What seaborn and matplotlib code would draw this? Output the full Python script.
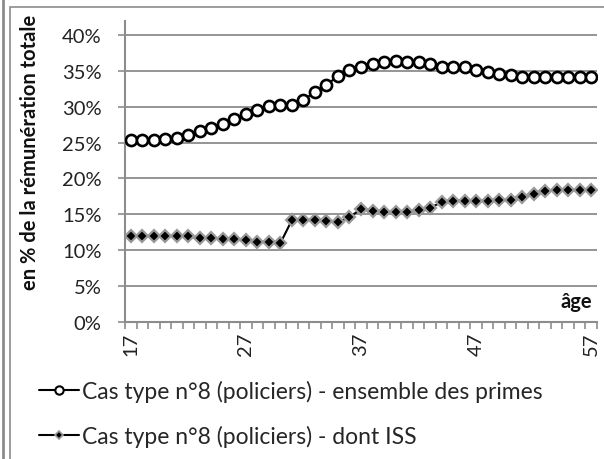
import matplotlib
matplotlib.use("Agg")
import matplotlib.pyplot as plt
import seaborn as sns
import pandas as pd
import numpy as np
from matplotlib.patches import Rectangle
from matplotlib.lines import Line2D
from matplotlib.ticker import FixedLocator, PercentFormatter

ages = list(range(17, 58))
ensemble_primes = [25.4, 25.3, 25.3, 25.5, 25.7, 26.0, 26.6, 27.1, 27.6, 28.3,
                   29.0, 29.6, 30.1, 30.2, 30.3, 31.0, 32.0, 33.0, 34.3, 35.1,
                   35.5, 35.9, 36.2, 36.35, 36.2, 36.2, 36.0, 35.5, 35.5, 35.5,
                   35.1, 34.9, 34.6, 34.4, 34.2, 34.1, 34.1, 34.1, 34.1, 34.1, 34.1]
dont_iss = [12.0, 12.0, 12.0, 12.0, 12.0, 12.0, 11.75, 11.75, 11.6, 11.6,
            11.4, 11.2, 11.2, 11.0, 14.2, 14.2, 14.2, 14.1, 13.9, 14.6,
            15.75, 15.5, 15.35, 15.35, 15.35, 15.6, 15.9, 16.7, 16.9, 16.9,
            16.9, 16.9, 17.0, 17.0, 17.35, 17.85, 18.2, 18.4, 18.4, 18.4, 18.4]
labels = ["Cas type n°8 (policiers) - ensemble des primes",
          "Cas type n°8 (policiers) - dont ISS"]
ytick_vals = [0, 5, 10, 15, 20, 25, 30, 35, 40]
xtick_vals = [17, 27, 37, 47, 57]

df = pd.DataFrame({"age": ages * 2,
                   "val": [v / 100 for v in ensemble_primes + dont_iss],
                   "serie": [labels[0]] * len(ages) + [labels[1]] * len(ages)})

sns.set_theme(style="white")
plt.rcParams["font.family"] = ["Lato", "DejaVu Sans"]

W, H = 604, 460
fig = plt.figure(figsize=(W / 100, H / 100), dpi=100)
ax = fig.add_axes([125 / W, 1 - 323 / H, (597 - 125) / W, (323 - 22) / H])

grid_c = "#8c8c8c"
for yv in ytick_vals:
    ax.axhline(yv / 100, color=grid_c, lw=1.3, zorder=1)

d1 = df[df.serie == labels[0]]
d2 = df[df.serie == labels[1]]
sns.lineplot(data=d1, x="age", y="val", ax=ax, color="black", lw=1.5,
             marker="o", markersize=8, markerfacecolor="white",
             markeredgecolor="black", markeredgewidth=1.9, zorder=3, legend=False)
sns.lineplot(data=d2, x="age", y="val", ax=ax, color="black", lw=1.5,
             marker="D", markersize=6, markerfacecolor="black",
             markeredgecolor="#9a9a9a", markeredgewidth=1.6, zorder=3, legend=False)

fs = 14.5
ax.set_xlim(16.5, 57.5)
ax.set_ylim(0, 0.40 + 14 / 720)
ax.yaxis.set_major_locator(FixedLocator([v / 100 for v in ytick_vals]))
ax.yaxis.set_major_formatter(PercentFormatter(1.0, decimals=0))
ax.set_xticks(xtick_vals)
ax.set_xticklabels([str(v) for v in xtick_vals], rotation=90)
ax.xaxis.set_minor_locator(FixedLocator(np.arange(16.5, 57.6, 1.0)))
ax.tick_params(axis="x", which="major", length=0, pad=7, labelsize=fs, colors="#222222")
ax.tick_params(axis="x", which="minor", length=5, width=1.2, color=grid_c, direction="out", bottom=True)
ax.tick_params(axis="y", which="major", length=5, width=1.2, color=grid_c, direction="out",
               left=True, pad=12, labelsize=fs, labelcolor="#222222")
for s in ["top", "right"]:
    ax.spines[s].set_visible(False)
for s in ["left", "bottom"]:
    ax.spines[s].set_color(grid_c)
    ax.spines[s].set_linewidth(1.5)
ax.set_xlabel("")
ax.set_ylabel("")
ax.set_facecolor("none")

fig.text(30 / W, 1 - 152 / H, "en % de la rémunération totale", rotation=90,
         ha="center", va="center", fontsize=14.5, fontweight="bold", color="#111111")
ax.text(0.99, 0.07, "âge", transform=ax.transAxes, ha="right", va="center",
        fontsize=fs, fontweight="bold", color="#111111")

# frame
fig.patches.append(Rectangle((10 / W, -0.1), 1.2, 1 - 8 / H + 0.1, transform=fig.transFigure,
                             fill=False, edgecolor="#8c8c8c", lw=1.2, zorder=0))
fig.lines.append(Line2D([3 / W, 3 / W], [0, 1], transform=fig.transFigure,
                        color="#8c8c8c", lw=2.0))

h1 = Line2D([], [], color="black", lw=1.5, marker="o", markersize=6,
            markerfacecolor="white", markeredgecolor="black", markeredgewidth=1.5)
h2 = Line2D([], [], color="black", lw=1.5, marker="D", markersize=4.5,
            markerfacecolor="black", markeredgecolor="#9a9a9a", markeredgewidth=1.2)
fig.legend([h1, h2], labels, loc="upper left", bbox_to_anchor=(30 / W, 1 - 372 / H),
           frameon=False, fontsize=16.5, handlelength=1.75, handletextpad=0.12,
           labelspacing=1.0, borderaxespad=0)

fig.savefig("out.png", dpi=100)
